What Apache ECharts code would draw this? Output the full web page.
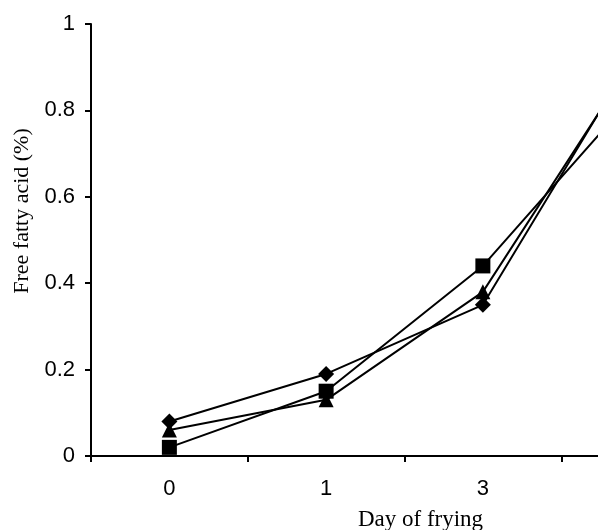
<!DOCTYPE html>
<html>
<head>
<meta charset="utf-8">
<script src="https://cdn.jsdelivr.net/npm/echarts@6/dist/echarts.min.js"></script>
<style>
  html, body { margin: 0; padding: 0; background: #fff; }
  #chart { width: 598px; height: 530px; }
</style>
</head>
<body>
<div id="chart"></div>
<script>
// days of frying (last one falls past the right edge of the picture)
const days = ['0', '1', '3', '5']
// free fatty acid (%) for the three samples
const diamondVals = [0.08, 0.19, 0.35, 0.95]
const squareVals = [0.02, 0.15, 0.44, 0.85]
const triangleVals = [0.06, 0.13, 0.38, 0.94]
const yTicks = [0, 0.2, 0.4, 0.6, 0.8, 1]

const chart = echarts.init(document.getElementById('chart'))

function lineSeries(name, data, symbol, size) {
  return {
    name: name,
    type: 'line',
    data: data,
    symbol: symbol,
    symbolSize: size,
    showAllSymbol: true,
    clip: false,
    lineStyle: { color: '#000', width: 2 },
    itemStyle: { color: '#000' },
    emphasis: { disabled: true }
  }
}

chart.setOption({
  animation: false,
  // the grid runs past the right edge on purpose, the last day is cut off
  grid: { left: 91, top: 24, bottom: 74, width: 627, outerBoundsMode: 'none', containLabel: false },
  xAxis: {
    type: 'category',
    data: days,
    boundaryGap: true,
    name: 'Day of frying',
    nameLocation: 'middle',
    nameGap: 52,
    nameTextStyle: { fontFamily: 'Liberation Serif', fontSize: 23, color: '#000', padding: [0, 0, 0, 32] },
    axisLine: { lineStyle: { color: '#000', width: 2 } },
    axisTick: { show: true, length: 6, lineStyle: { color: '#000', width: 2 } },
    axisLabel: { fontFamily: 'Liberation Sans', fontSize: 22, color: '#000', margin: 22 },
    splitLine: { show: false }
  },
  yAxis: {
    type: 'value',
    min: yTicks[0],
    max: yTicks[yTicks.length - 1],
    interval: 0.2,
    name: 'Free fatty acid (%)',
    nameLocation: 'middle',
    nameGap: 58,
    nameRotate: 90,
    nameTextStyle: { fontFamily: 'Liberation Serif', fontSize: 22, color: '#000', padding: [0, 0, 0, 58] },
    axisLine: { show: true, lineStyle: { color: '#000', width: 2 } },
    axisTick: { show: true, length: 6, lineStyle: { color: '#000', width: 2 } },
    axisLabel: { fontFamily: 'Liberation Sans', fontSize: 22, color: '#000', margin: 16 },
    splitLine: { show: false }
  },
  series: [
    lineSeries('diamond', diamondVals, 'diamond', 16),
    lineSeries('triangle', triangleVals, 'triangle', 15),
    lineSeries('square', squareVals, 'rect', 15)
  ]
})
</script>
</body>
</html>
